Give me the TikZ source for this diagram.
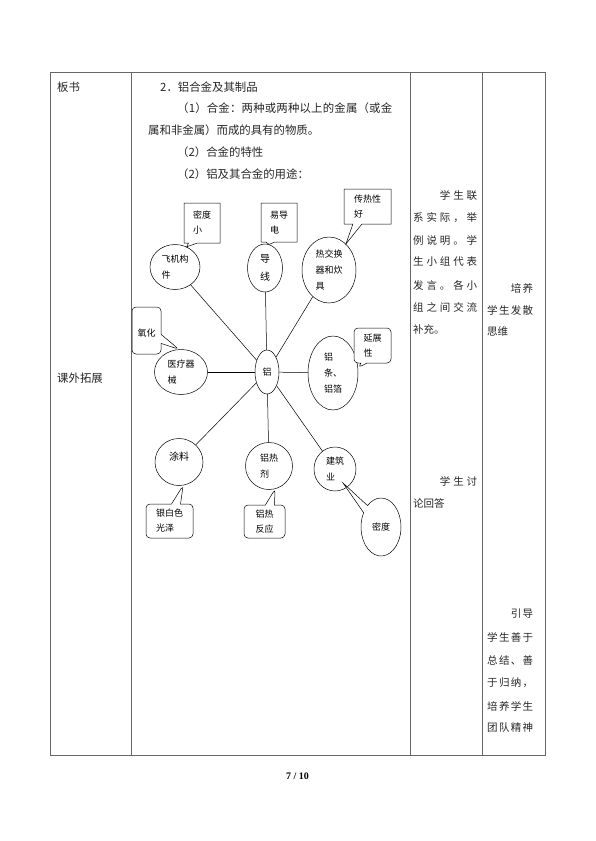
\documentclass[tikz,border=0pt]{standalone}
\usepackage{fontspec}
\setmainfont{Noto Sans CJK SC}
\newfontfamily\tnr{Liberation Serif}
\usetikzlibrary{shapes.geometric,shapes.callouts}
\tikzset{
 tbl/.style={draw=black!60, line width=0.7pt},
 bodytxt/.style={anchor=west, inner sep=0pt, font=\fontsize{11.4}{14}\selectfont, text=black!85},
 coltxt/.style={anchor=west, inner sep=0pt, font=\fontsize{10.5}{13}\selectfont, text=black!85},
 bub/.style={draw, ellipse, inner sep=0pt, align=left, font=\fontsize{9}{16}\selectfont, line width=0.5pt},
 box/.style={draw, rectangle callout, inner sep=0pt, align=left, font=\fontsize{9}{15}\selectfont, callout pointer width=9pt, line width=0.5pt, fill=white},
 rbox/.style={box, rounded corners=4pt},
 ebox/.style={draw, ellipse callout, inner sep=0pt, align=left, font=\fontsize{9}{15}\selectfont, callout pointer arc=18, line width=0.5pt, fill=white},
 ln/.style={line width=0.5pt},
}
\newcommand{\ph}{\phantom{学}}
\begin{document}
\begin{tikzpicture}[x=1pt,y=-1pt]
\useasboundingbox (0,0) rectangle (595,841);
% table
\draw[tbl] (50,72) rectangle (545,755);
\draw[tbl] (131,72) -- (131,755);
\draw[tbl] (410,72) -- (410,755);
\draw[tbl] (482,72) -- (482,755);
% column 1
\node[bodytxt] (bs) at (57,87) {板书};
\node[bodytxt] (kw) at (57,378) {课外拓展};
% column 2 text
\node[bodytxt] (l1) at (160,87) {2．铝合金及其制品};
\node[bodytxt] (l2) at (177,108.5) {\makebox[215pt]{（\hfill 1\hfill ）\hfill 合\hfill 金\hfill ：\hfill 两\hfill 种\hfill 或\hfill 两\hfill 种\hfill 以\hfill 上\hfill 的\hfill 金\hfill 属\hfill （\hfill 或\hfill 金}};
\node[bodytxt] (l3) at (148,130) {属和非金属）而成的具有的物质。};
\node[bodytxt] (l4) at (177,152) {（2）合金的特性};
\node[bodytxt] (l5) at (177,174) {（2）铝及其合金的用途：};
% column 3
\node[coltxt] (c1) at (413,196) {\makebox[64pt]{\ph\hfill\ph\hfill 学\hfill 生\hfill 联}};
\node[coltxt] (c2) at (413,218) {\makebox[64pt]{系\hfill 实\hfill 际\hfill ，\hfill 举}};
\node[coltxt] (c3) at (413,240) {\makebox[64pt]{例\hfill 说\hfill 明\hfill 。\hfill 学}};
\node[coltxt] (c4) at (413,262) {\makebox[64pt]{生\hfill 小\hfill 组\hfill 代\hfill 表}};
\node[coltxt] (c5) at (413,285) {\makebox[64pt]{发\hfill 言\hfill 。\hfill 各\hfill 小}};
\node[coltxt] (c6) at (413,307) {\makebox[64pt]{组\hfill 之\hfill 间\hfill 交\hfill 流}};
\node[coltxt] (c7) at (413,329) {补充。};
\node[coltxt] (c8) at (413,481) {\makebox[64pt]{\ph\hfill\ph\hfill 学\hfill 生\hfill 讨}};
\node[coltxt] (c9) at (413,503) {论回答};
% column 4
\node[coltxt] (d1) at (487,288) {\makebox[46pt]{\ph\hfill\ph\hfill 培\hfill 养}};
\node[coltxt] (d2) at (487,310) {\makebox[46pt]{学\hfill 生\hfill 发\hfill 散}};
\node[coltxt] (d3) at (487,332) {思维};
\node[coltxt] (d4) at (487,613) {\makebox[46pt]{\ph\hfill\ph\hfill 引\hfill 导}};
\node[coltxt] (d5) at (487,637) {\makebox[46pt]{学\hfill 生\hfill 善\hfill 于}};
\node[coltxt] (d6) at (487,660) {\makebox[46pt]{总\hfill 结\hfill 、\hfill 善}};
\node[coltxt] (d7) at (487,683) {\makebox[46pt]{于\hfill 归\hfill 纳\hfill ，}};
\node[coltxt] (d8) at (487,706) {\makebox[46pt]{培\hfill 养\hfill 学\hfill 生}};
\node[coltxt] (d9) at (487,728) {\makebox[46pt]{团\hfill 队\hfill 精\hfill 神}};
% diagram ellipses
\node[bub, minimum width=50pt, minimum height=45pt] (fj) at (175,267) {飞机构\\件};
\node[bub, minimum width=35pt, minimum height=48pt, font=\fontsize{10}{18}\selectfont] (dx) at (265,268) {导\\线};
\node[bub, minimum width=54pt, minimum height=66pt] (rj) at (329,270) {热交换\\器和炊\\具};
\node[bub, minimum width=53pt, minimum height=45pt] (yl) at (181,372) {医疗器\\械};
\node[bub, minimum width=24pt, minimum height=44pt] (al) at (267,372) {铝};
\node[bub, minimum width=50pt, minimum height=74pt] (lt) at (333,373) {铝\\条、\\铝箔};
\node[bub, minimum width=48pt, minimum height=47pt, font=\fontsize{10}{16}\selectfont] (tl) at (179,462) {涂料\\[-4pt]\mbox{}};
\node[bub, minimum width=47pt, minimum height=47pt] (ls) at (269,466) {铝热\\剂};
\node[bub, minimum width=42pt, minimum height=44pt] (jz) at (335,469) {建筑\\业};
% connectors
\draw[ln] (fj) -- (al);
\draw[ln] (dx) -- (al);
\draw[ln] (rj) -- (al);
\draw[ln] (yl) -- (al);
\draw[ln] (al) -- (lt);
\draw[ln] (al) -- (tl);
\draw[ln] (al) -- (ls);
\draw[ln] (al) -- (jz);
% callouts
\coordinate (mdtip) at (343,483);
\node[box, minimum width=36pt, minimum height=40pt, callout absolute pointer={(fj.60)}] (b1) at (202,223) {密度\\小};
\node[box, minimum width=36pt, minimum height=39pt, callout absolute pointer={(dx.80)}] (b2) at (279,222.5) {易导\\电};
\node[box, minimum width=47pt, minimum height=35pt, callout absolute pointer={(rj.57)}] (b3) at (367.5,206.5) {传热性\\好};
\node[rbox, minimum width=29pt, minimum height=47pt, callout absolute pointer={(yl.95)}] (b4) at (146.5,330.5) {\\[-3pt]氧化};
\node[rbox, minimum width=37pt, minimum height=35pt, callout pointer width=6pt, callout absolute pointer={(lt.12)}] (b5) at (372.5,345.5) {延展\\性};
\node[rbox, minimum width=47pt, minimum height=34pt, callout absolute pointer={(tl.-80)}] (b6) at (169.5,521) {银白色\\光泽};
\node[rbox, minimum width=41pt, minimum height=33pt, callout absolute pointer={(ls.-75)}] (b7) at (264.5,521.5) {铝热\\反应};
\node[ebox, minimum width=40pt, minimum height=58pt, callout absolute pointer={(mdtip)}] (b8) at (381,527) {密度};
% page number
\node[font=\tnr\bfseries\fontsize{10}{12}\selectfont, inner sep=0pt] (pg) at (297.5,776) {7 / 10};
\end{tikzpicture}
\end{document}
